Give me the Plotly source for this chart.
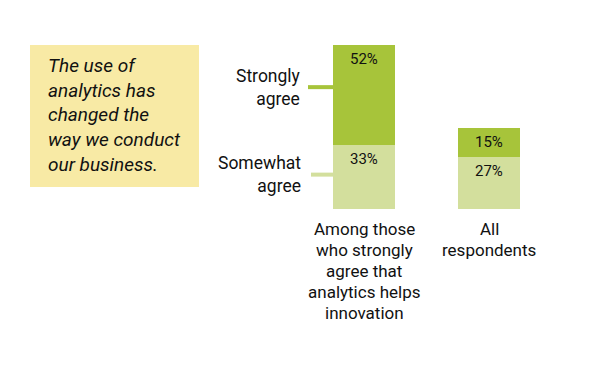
import plotly.graph_objects as go

categories = ["Among those<br>who strongly<br>agree that<br>analytics helps<br>innovation", "All<br>respondents"]
somewhat_agree = [33, 27]
strongly_agree = [52, 15]
series_names = ["Somewhat<br>agree", "Strongly<br>agree"]
quote = "The use of<br>analytics has<br>changed the<br>way we conduct<br>our business."

W, H = 601, 375
OFF = 8  # browser body margin
FONT = "Roboto, Arial, sans-serif"
DARK = "#a7c43a"
LIGHT = "#d3df9d"

xpos = [0, 1]
fig = go.Figure()
fig.add_trace(go.Bar(x=xpos, y=somewhat_agree, marker=dict(color=LIGHT, line=dict(width=0)),
                     width=0.5, name=series_names[0], showlegend=False, hoverinfo="skip"))
fig.add_trace(go.Bar(x=xpos, y=strongly_agree, marker=dict(color=DARK, line=dict(width=0)),
                     width=0.5, name=series_names[1], showlegend=False, hoverinfo="skip"))

px_per_unit = 125.0
x0px = 364.0 - OFF
y0px = 209.0 - OFF
px_per_pct = 164.0 / 85.0

def py(p):
    return 1 - (p - OFF) / H

def px(p):
    return (p - OFF) / W

strong_line_y = somewhat_agree[0] + strongly_agree[0] * 0.58
some_line_y = somewhat_agree[0] * 0.54

shapes = [
    dict(type="rect", xref="paper", yref="paper", x0=px(30), x1=px(199), y0=py(187), y1=py(45),
         fillcolor="#f8eaa5", line=dict(width=0), layer="below"),
    dict(type="line", xref="paper", yref="y", x0=px(308), x1=px(334),
         y0=strong_line_y, y1=strong_line_y, line=dict(color=DARK, width=4)),
    dict(type="line", xref="paper", yref="y", x0=px(311), x1=px(334),
         y0=some_line_y, y1=some_line_y, line=dict(color=LIGHT, width=4)),
]

annotations = [
    dict(text=quote, xref="paper", yref="paper", x=px(46), y=py(51.5), xanchor="left", yanchor="top",
         align="left", showarrow=False, font=dict(size=19, family=FONT, color="#111", style="italic")),
    dict(text=series_names[1], xref="paper", yref="y", x=px(303), y=strong_line_y,
         xanchor="right", yanchor="middle", align="right", showarrow=False,
         font=dict(size=17.5, family=FONT, color="#111")),
    dict(text=series_names[0], xref="paper", yref="y", x=px(303), y=some_line_y,
         xanchor="right", yanchor="middle", align="right", showarrow=False,
         font=dict(size=17.5, family=FONT, color="#111")),
]
LINE_STEP = 21
for i, c in enumerate(categories):
    for j, line in enumerate(c.split("<br>")):
        annotations.append(dict(text=line, xref="x", yref="paper", x=xpos[i], y=py(229),
                                xanchor="center", yanchor="middle", yshift=-j * LINE_STEP,
                                showarrow=False, font=dict(size=17, family=FONT, color="#111")))
    # value labels at top of each segment
    tops = [somewhat_agree[i], somewhat_agree[i] + strongly_agree[i]]
    vals = [somewhat_agree[i], strongly_agree[i]]
    for t, v in zip(tops, vals):
        annotations.append(dict(text=f"{v}%", xref="x", yref="y", x=xpos[i], y=t, xanchor="center",
                                yanchor="top", yshift=-3, showarrow=False,
                                font=dict(size=15, family=FONT, color="#111")))

fig.update_layout(
    width=W, height=H, margin=dict(l=0, r=0, t=0, b=0),
    paper_bgcolor="white", plot_bgcolor="white", barmode="stack",
    xaxis=dict(range=[-x0px / px_per_unit, (W - x0px) / px_per_unit], visible=False, fixedrange=True),
    yaxis=dict(range=[-(H - y0px) / px_per_pct, y0px / px_per_pct], visible=False, fixedrange=True),
    shapes=shapes, annotations=annotations, font=dict(family=FONT),
)
fig.write_html("out.html", config={"displayModeBar": False})
